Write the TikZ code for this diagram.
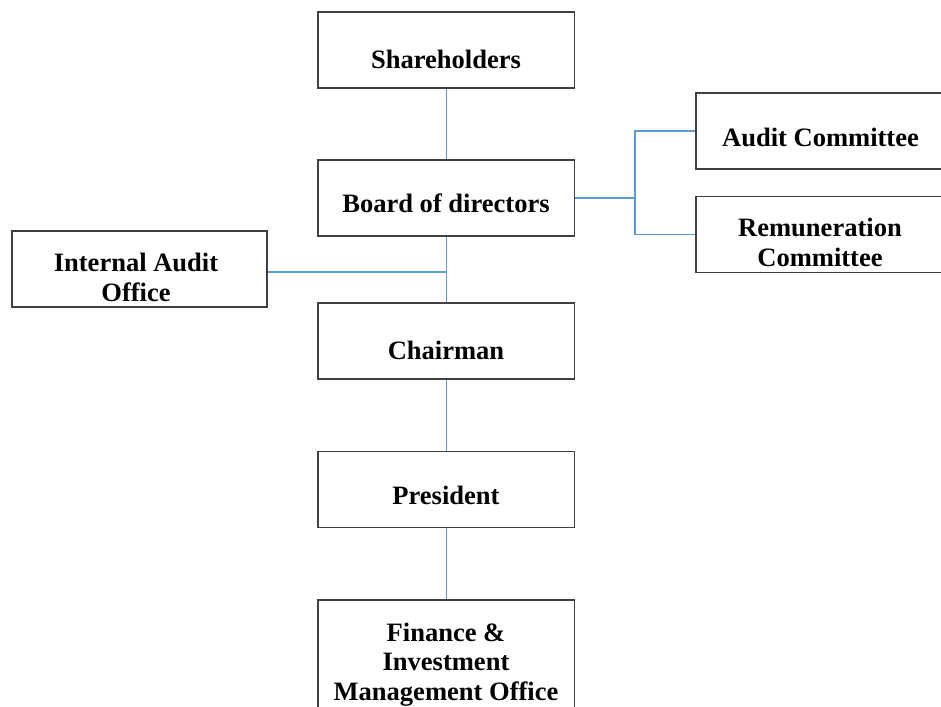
\documentclass[tikz,border=0pt]{standalone}
\usepackage{fontspec}
\setmainfont{Liberation Serif}

\definecolor{linkblue}{RGB}{91,155,213}
\definecolor{boxgray}{RGB}{64,64,64}

\tikzset{
    unitbox/.style={draw=boxgray, line width=0.75pt, minimum width=5.13cm, minimum height=1.52cm, inner sep=0pt},
    unittext/.style={font=\fontsize{15.1}{16.8}\selectfont\bfseries, align=center, inner sep=0pt},
    link/.style={draw=linkblue, line width=0.6pt}
}

\begin{document}
\begin{tikzpicture}[x=0.02cm, y=-0.02cm]
    \useasboundingbox (0,0) rectangle (941,707);

    % Boxes
    \node[unitbox] (share) at (446.3, 50) {};
    \node[unitbox] (board) at (446.3, 198) {};
    \node[unitbox] (chair) at (446.3, 341) {};
    \node[unitbox] (pres) at (446.3, 489.5) {};
    \node[unitbox, minimum height=2.3cm] (fin) at (446.3, 657.5) {};
    \node[unitbox, minimum width=5.1cm] (ia) at (139.5, 269) {};
    \node[unitbox, minimum width=4.98cm] (audit) at (820.5, 131) {};
    \node[unitbox, minimum width=4.98cm] (remun) at (820.5, 234.5) {};

    % Labeling
    \foreach \name/\x/\y/\txt in {shareT/446/59/Shareholders, boardT/446/203/Board of directors, chairT/446/350/Chairman, presT/446/495/President, finT/446/664.5/{Finance \&\\Investment\\Management Office}, iaT/136/277.5/{Internal Audit\\Office}, auditT/820.5/137.5/Audit Committee, remunT/820/242.5/{Remuneration\\Committee}}
        \node[unittext] (\name) at (\x, \y) {\txt};

    % Connectors
    \coordinate (iaJoin) at (446.3, 272);
    \coordinate (split) at (635, 198);

    \draw[link] (share) -- (board);
    \draw[link] (board) -- (chair);
    \draw[link] (chair) -- (pres);
    \draw[link] (pres) -- (fin);
    \draw[link] (iaJoin) -- (iaJoin -| ia.east);
    \draw[link, line width=1.1pt] (board.east) -- (split);
    \draw[link] (split) |- (audit.west);
    \draw[link] (split) |- (remun.west);
\end{tikzpicture}
\end{document}
